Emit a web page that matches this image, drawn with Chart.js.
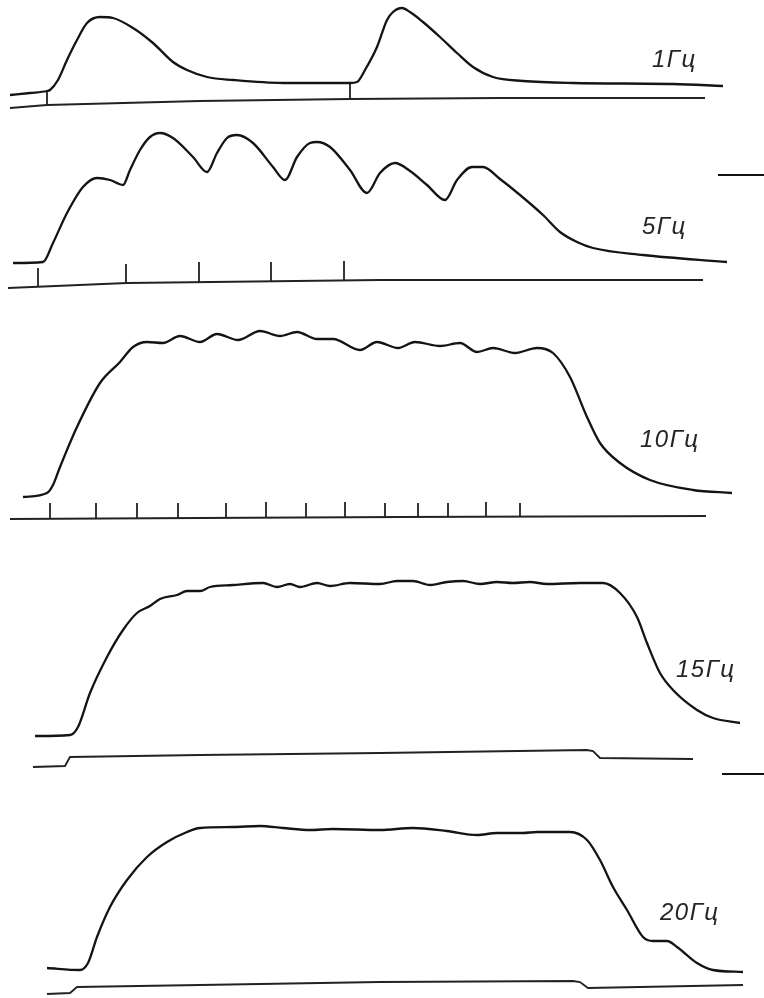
<!DOCTYPE html>
<html lang="ru">
<head>
<meta charset="UTF-8">
<title>Сокращения мышцы при разной частоте стимуляции</title>
<script src="https://cdn.jsdelivr.net/npm/chart.js"></script>
<style>
  body { margin: 0; background: #fff; }
  #page { position: relative; width: 764px; height: 998px; overflow: hidden; }
  .panel { position: absolute; left: 0; width: 764px; }
  .mark { position: absolute; height: 2px; background: #111; }
</style>
</head>
<body>
<div id="page">
  <div class="panel" style="top:0;height:112px"><canvas id="c1"></canvas></div>
  <div class="panel" style="top:112px;height:188px"><canvas id="c2"></canvas></div>
  <div class="panel" style="top:300px;height:230px"><canvas id="c3"></canvas></div>
  <div class="panel" style="top:530px;height:250px"><canvas id="c4"></canvas></div>
  <div class="panel" style="top:780px;height:218px"><canvas id="c5"></canvas></div>
  <div class="mark" style="top:174px;left:718px;width:46px"></div>
  <div class="mark" style="top:773px;left:722px;width:42px"></div>
</div>
<script>
// time in ms, force in arbitrary units

// 1 Hz
const time1 = [10, 30, 47, 50, 58, 67, 77, 87, 100, 113, 133, 153, 173, 187, 207, 233, 283, 347, 350, 357, 365, 377, 387, 393, 402, 410, 423, 440, 457, 473, 493, 523, 573, 673, 723];
const force1 = [17, 19, 21, 22, 32, 52, 72, 89, 95, 94, 84, 69, 50, 42, 35, 32, 29, 29, 29, 30, 42, 65, 92, 100, 104, 100, 90, 75, 59, 45, 35, 31, 29, 28, 26];
const markTime1 = [10, 47, 200, 350, 500, 705];
const markLevel1 = [4, 7, 11, 13, 14, 14];
const stim1 = [47, 350];
const stimLow1 = [7, 13];
const stimHigh1 = [21, 29];

// 5 Hz
const time2 = [13, 43, 53, 67, 83, 97, 110, 123, 130, 140, 150, 160, 173, 193, 207, 217, 227, 237, 253, 273, 285, 297, 310, 317, 330, 350, 367, 380, 395, 410, 427, 445, 457, 472, 483, 500, 520, 543, 560, 577, 593, 643, 727];
const force2 = [37, 38, 57, 87, 113, 122, 120, 115, 130, 150, 163, 167, 162, 143, 128, 147, 162, 165, 157, 133, 120, 143, 157, 158, 153, 130, 107, 127, 137, 129, 115, 100, 120, 133, 133, 121, 105, 85, 68, 58, 52, 45, 38];
const markTime2 = [8, 127, 380, 703];
const markLevel2 = [12, 17, 20, 20];
const stim2 = [38, 126, 199, 271, 344];
const stimLow2 = [13, 17, 18, 19, 20];
const stimHigh2 = [32, 36, 38, 38, 39];

// 10 Hz
const time3 = [23, 47, 53, 60, 77, 100, 120, 133, 147, 163, 180, 200, 217, 238, 260, 280, 297, 317, 333, 360, 377, 398, 415, 440, 460, 477, 493, 515, 537, 553, 570, 587, 600, 620, 650, 693, 732];
const force3 = [33, 37, 45, 63, 103, 147, 168, 183, 188, 187, 194, 188, 196, 190, 199, 194, 198, 191, 191, 180, 188, 182, 188, 184, 187, 178, 182, 177, 182, 177, 153, 113, 87, 67, 50, 40, 37];
const markTime3 = [10, 200, 400, 706];
const markLevel3 = [11, 12, 13, 14];
const stim3 = [50, 96, 137, 178, 226, 266, 306, 345, 385, 418, 448, 486, 520];
const stimLow3 = [11, 12, 12, 12, 12, 12, 13, 13, 13, 13, 13, 13, 14];
const stimHigh3 = [27, 27, 27, 27, 27, 28, 27, 28, 27, 27, 27, 28, 27];

// 15 Hz
const time4 = [35, 70, 78, 90, 107, 123, 137, 150, 160, 177, 187, 200, 210, 233, 263, 277, 290, 300, 317, 330, 350, 380, 397, 413, 430, 447, 463, 480, 497, 513, 530, 547, 580, 603, 620, 637, 647, 660, 673, 697, 713, 740];
const force4 = [44, 45, 53, 87, 123, 150, 167, 174, 181, 185, 189, 189, 193, 195, 197, 193, 196, 193, 197, 194, 197, 196, 199, 199, 195, 198, 199, 196, 198, 197, 198, 196, 197, 197, 187, 163, 137, 107, 90, 70, 62, 57];
const markTime4 = [33, 65, 70, 200, 380, 587, 593, 600, 693];
const markLevel4 = [13, 14, 23, 25, 27, 30, 29, 22, 21];

// 20 Hz
const time5 = [47, 80, 88, 97, 110, 127, 147, 167, 187, 200, 233, 260, 283, 310, 333, 380, 413, 447, 477, 497, 523, 537, 570, 587, 600, 613, 627, 643, 653, 667, 677, 697, 713, 743];
const force5 = [30, 28, 35, 61, 91, 118, 141, 156, 166, 170, 171, 172, 170, 168, 169, 168, 170, 167, 163, 165, 165, 166, 166, 158, 138, 111, 88, 61, 57, 57, 51, 35, 28, 26];
const markTime5 = [47, 70, 77, 200, 380, 573, 580, 588, 743];
const markLevel5 = [4, 5, 11, 13, 16, 17, 16, 10, 13];

const labels = ['1Гц', '5Гц', '10Гц', '15Гц', '20Гц'];

const ink = '#141414';

function pts(ts, vs) {
  return ts.map((t, i) => ({ x: t, y: vs[i] }));
}

// frequency label, placed in data units (left edge of text)
const labelPlugin = {
  id: 'freqLabel',
  afterDatasetsDraw(chart, args, opts) {
    const ctx = chart.ctx;
    ctx.save();
    ctx.font = 'italic 24px "Liberation Sans", Arial, sans-serif';
    if ('letterSpacing' in ctx) ctx.letterSpacing = '1.5px';
    ctx.fillStyle = '#262626';
    ctx.textAlign = 'left';
    ctx.textBaseline = 'middle';
    ctx.fillText(opts.text, chart.scales.x.getPixelForValue(opts.t), chart.scales.y.getPixelForValue(opts.f));
    ctx.restore();
  }
};

function makePanel(id, height, trace, marker, stims, label) {
  const datasets = [
    { data: trace, borderColor: ink, borderWidth: 2.3, cubicInterpolationMode: 'monotone' },
    { data: marker, borderColor: '#222', borderWidth: 1.8, tension: 0 }
  ];
  if (stims) {
    stims.t.forEach((t, i) => {
      datasets.push({ data: [{ x: t, y: stims.lo[i] }, { x: t, y: stims.hi[i] }], borderColor: '#222', borderWidth: 1.8, tension: 0 });
    });
  }
  new Chart(document.getElementById(id), {
    type: 'scatter',
    data: { datasets },
    options: {
      responsive: true,
      maintainAspectRatio: false,
      animation: false,
      events: [],
      showLine: true,
      elements: { point: { radius: 0 } },
      layout: { padding: 0 },
      scales: {
        x: { type: 'linear', display: false, min: 0, max: 764 },
        y: { type: 'linear', display: false, min: 0, max: height }
      },
      plugins: {
        legend: { display: false },
        tooltip: { enabled: false },
        freqLabel: label
      }
    },
    plugins: [labelPlugin]
  });
}

makePanel('c1', 112, pts(time1, force1), pts(markTime1, markLevel1),
  { t: stim1, lo: stimLow1, hi: stimHigh1 }, { text: labels[0], t: 652, f: 52 });
makePanel('c2', 188, pts(time2, force2), pts(markTime2, markLevel2),
  { t: stim2, lo: stimLow2, hi: stimHigh2 }, { text: labels[1], t: 642, f: 73 });
makePanel('c3', 230, pts(time3, force3), pts(markTime3, markLevel3),
  { t: stim3, lo: stimLow3, hi: stimHigh3 }, { text: labels[2], t: 640, f: 90 });
makePanel('c4', 250, pts(time4, force4), pts(markTime4, markLevel4),
  null, { text: labels[3], t: 676, f: 110 });
makePanel('c5', 218, pts(time5, force5), pts(markTime5, markLevel5),
  null, { text: labels[4], t: 660, f: 85 });
</script>
</body>
</html>
